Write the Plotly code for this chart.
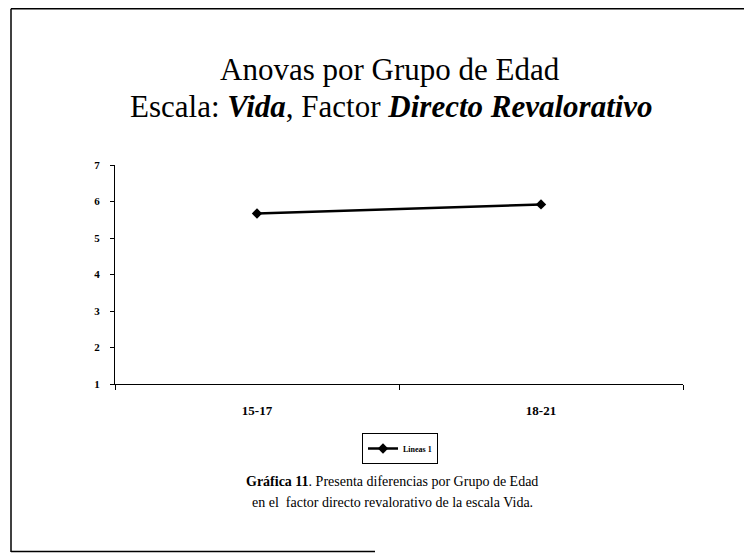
import plotly.graph_objects as go

categories = ["15-17", "18-21"]
values = [5.67, 5.92]
y_ticks = [1, 2, 3, 4, 5, 6, 7]
series_name = "Lineas 1"

SERIF = "Liberation Serif, Times New Roman, serif"

# page body has an 8px margin; figure sized to fit the 752x553 window
W, H = 744, 545
L, R, T, B = 107, 69, 157, 169
PW, PH = W - L - R, H - T - B  # 568 x 219


def px(x):  # figure pixel x -> paper x
    return (x - L) / PW


def py(y):  # figure pixel y -> paper y
    return (H - B - y) / PH


fig = go.Figure()
fig.add_trace(go.Scatter(
    x=categories, y=values, mode="lines+markers", name=series_name,
    line=dict(color="black", width=2.5),
    marker=dict(symbol="diamond", size=8, color="black"),
))

fig.update_layout(
    width=W, height=H,
    margin=dict(l=L, r=R, t=T, b=B, pad=0),
    paper_bgcolor="white", plot_bgcolor="white",
    font=dict(family=SERIF, color="black"),
    showlegend=True,
    legend=dict(
        x=px(392), xanchor="center", y=py(425), yanchor="top",
        orientation="h", bordercolor="black", borderwidth=1,
        font=dict(family=SERIF, size=8, color="black", weight="bold"),
        itemwidth=30, tracegroupgap=0,
    ),
)

fig.update_xaxes(
    type="category", range=[-0.5, 1.5],
    showline=True, linecolor="black", linewidth=1,
    ticks="outside", tickson="boundaries", ticklen=5, tickcolor="black",
    showgrid=False, zeroline=False,
    tickfont=dict(family=SERIF, size=13, color="black", weight="bold"),
    ticklabelstandoff=14,
)
fig.update_yaxes(
    range=[1, 7], tickvals=y_ticks,
    showline=True, linecolor="black", linewidth=1,
    ticks="outside", ticklen=4, tickcolor="black",
    showgrid=False, zeroline=False,
    tickfont=dict(family=SERIF, size=11, color="black", weight="bold"),
    ticklabelstandoff=8,
)

# Titles
fig.add_annotation(
    text="Anovas por Grupo de Edad", xref="paper", yref="paper",
    x=px(382), y=py(61), yanchor="middle",
    showarrow=False, font=dict(family=SERIF, size=31, color="black"),
)
fig.add_annotation(
    text="Escala: <b><i>Vida</i></b>, Factor <b><i>Directo Revalorativo</i></b>",
    xref="paper", yref="paper",
    x=px(383), y=py(98), yanchor="middle",
    showarrow=False, font=dict(family=SERIF, size=31, color="black"),
)

# Caption
fig.add_annotation(
    text="<b>Gráfica 11</b>. Presenta diferencias por Grupo de Edad",
    xref="paper", yref="paper", x=px(384), y=py(473), yanchor="middle",
    showarrow=False, font=dict(family=SERIF, size=14, color="black"),
)
fig.add_annotation(
    text="en el  factor directo revalorativo de la escala Vida.",
    xref="paper", yref="paper", x=px(384), y=py(494), yanchor="middle",
    showarrow=False, font=dict(family=SERIF, size=14, color="black"),
)

# Outer frame (left, top, partial bottom)
frame = dict(color="black", width=1.5)
fig.add_shape(type="line", xref="paper", yref="paper",
              x0=px(3), x1=px(3), y0=py(544), y1=py(0.75), line=frame)
fig.add_shape(type="line", xref="paper", yref="paper",
              x0=px(3), x1=px(W), y0=py(0.75), y1=py(0.75), line=frame)
fig.add_shape(type="line", xref="paper", yref="paper",
              x0=px(3), x1=px(367), y0=py(543.5), y1=py(543.5), line=frame)

fig.write_html("out.html")
